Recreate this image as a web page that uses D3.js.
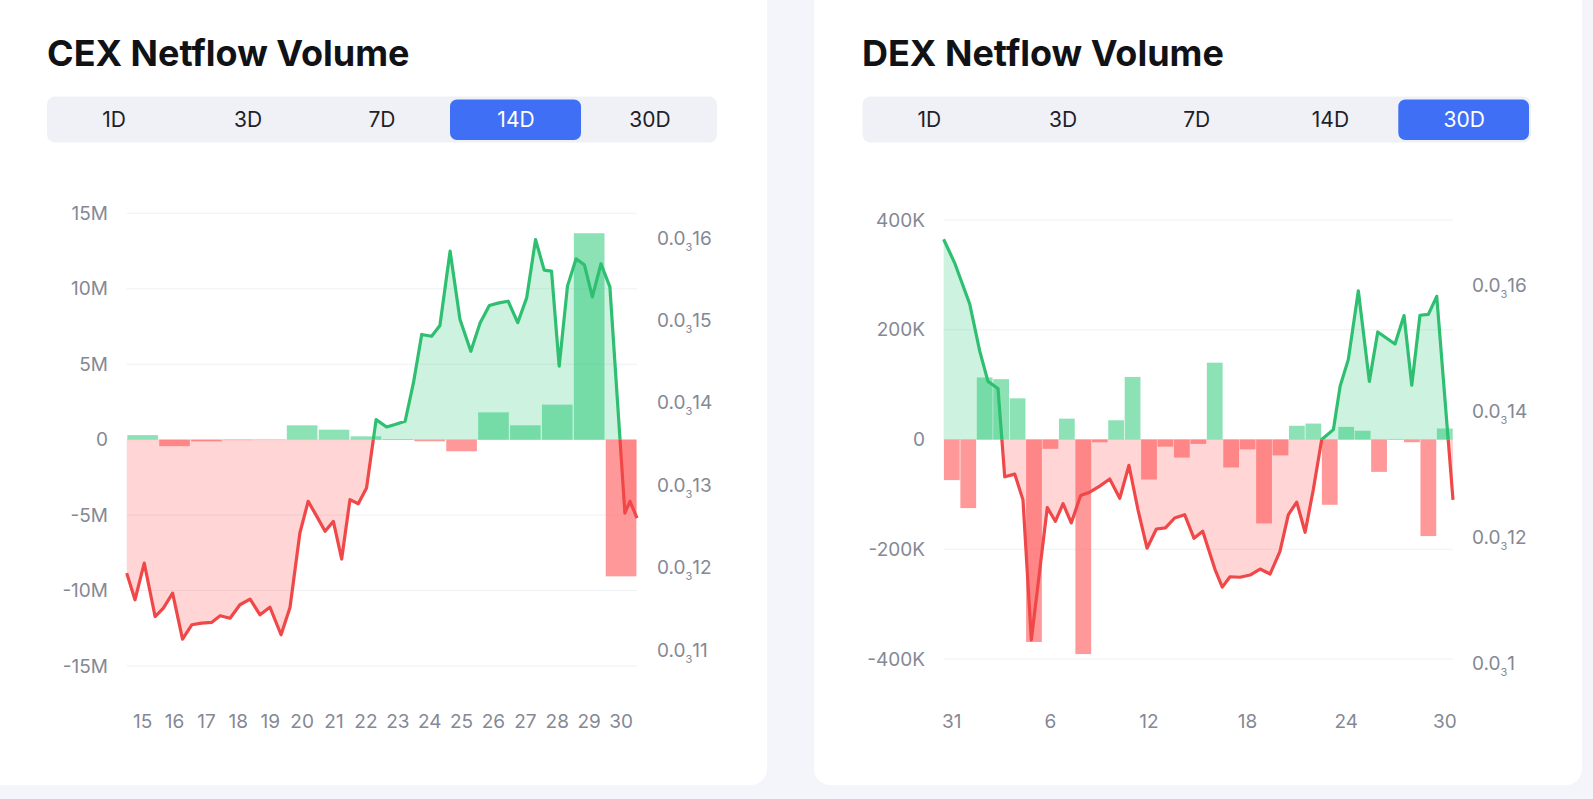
<!DOCTYPE html>
<html><head><meta charset="utf-8">
<script src="https://cdn.jsdelivr.net/npm/d3@7"></script>
<style>
html,body{margin:0;padding:0;background:#f4f5fa;overflow:hidden;}
svg{display:block;font-family:Inter,"Noto Sans",sans-serif;}
</style></head><body>
<svg id="c" width="1593" height="799"></svg>
<script>
// ---------- DATA ----------
const periods = ["1D", "3D", "7D", "14D", "30D"];

const cexTitle = "CEX Netflow Volume";
const cexDays = ["15","16","17","18","19","20","21","22","23","24","25","26","27","28","29","30"];
const cexNetflow = [0.3e6, -0.43e6, -0.11e6, -0.03e6, -0.02e6, 0.95e6, 0.66e6, 0.22e6, 0.04e6, -0.11e6, -0.77e6, 1.81e6, 0.95e6, 2.32e6, 13.68e6, -9.06e6];
const cexPriceTimes = [0.00,0.26,0.55,0.89,1.15,1.44,1.75,2.04,2.35,2.66,2.93,3.24,3.55,3.87,4.18,4.49,4.84,5.12,5.43,5.69,5.96,6.22,6.48,6.74,7.00,7.26,7.52,7.82,8.15,8.41,8.73,8.99,9.25,9.56,9.82,10.14,10.45,10.79,11.08,11.37,11.67,11.96,12.26,12.54,12.82,13.09,13.32,13.56,13.82,14.09,14.35,14.60,14.87,15.15,15.62,15.78,16.00];
const cexPrice = [1.1933e-4,1.1610e-4,1.2054e-4,1.1406e-4,1.1509e-4,1.1690e-4,1.1132e-4,1.1306e-4,1.1326e-4,1.1335e-4,1.1416e-4,1.1386e-4,1.1549e-4,1.1617e-4,1.1427e-4,1.1520e-4,1.1185e-4,1.1515e-4,1.2420e-4,1.2805e-4,1.2622e-4,1.2440e-4,1.2561e-4,1.2104e-4,1.2825e-4,1.2775e-4,1.2966e-4,1.3796e-4,1.3707e-4,1.3736e-4,1.3776e-4,1.4241e-4,1.4829e-4,1.4808e-4,1.4938e-4,1.5841e-4,1.5010e-4,1.4625e-4,1.4969e-4,1.5180e-4,1.5213e-4,1.5233e-4,1.4972e-4,1.5273e-4,1.5981e-4,1.5610e-4,1.5597e-4,1.4444e-4,1.5416e-4,1.5747e-4,1.5676e-4,1.5286e-4,1.5687e-4,1.5407e-4,1.2662e-4,1.2805e-4,1.2601e-4];
const cexLeftTicks = [-15e6, -10e6, -5e6, 0, 5e6, 10e6, 15e6];
const cexRightTicks = [0.00011, 0.00012, 0.00013, 0.00014, 0.00015, 0.00016];
const cexXTicks = cexDays;

const dexTitle = "DEX Netflow Volume";
const dexDays = ["31","1","2","3","4","5","6","7","8","9","10","11","12","13","14","15","16","17","18","19","20","21","22","23","24","25","26","27","28","29","30"];
const dexNetflow = [-74e3,-125e3,113e3,110e3,75e3,-369e3,-17e3,38e3,-391e3,-5e3,35e3,114e3,-73e3,-13e3,-33e3,-8e3,140e3,-51e3,-18e3,-153e3,-29e3,25e3,29e3,-119e3,23e3,16e3,-59e3,1e3,-5e3,-176e3,20e3];
const dexPriceTimes = [0.00,0.67,1.59,2.20,2.70,3.31,3.72,4.33,4.83,5.34,6.31,6.80,7.27,7.77,8.34,8.89,9.50,10.11,10.72,11.28,11.83,12.38,12.95,13.50,14.06,14.67,15.24,15.77,16.52,16.96,17.43,18.04,18.65,19.26,19.87,20.47,20.98,21.49,22.00,22.50,23.01,23.72,24.13,24.63,25.24,25.91,26.42,27.47,28.02,28.49,28.99,29.50,30.01,31.00];
const dexPrice = [1.6731e-4,1.6357e-4,1.5703e-4,1.4954e-4,1.4475e-4,1.4362e-4,1.2960e-4,1.3003e-4,1.2594e-4,1.0373e-4,1.2472e-4,1.2254e-4,1.2533e-4,1.2228e-4,1.2664e-4,1.2716e-4,1.2812e-4,1.2925e-4,1.2620e-4,1.3143e-4,1.2437e-4,1.1827e-4,1.2132e-4,1.2150e-4,1.2306e-4,1.2359e-4,1.1984e-4,1.2097e-4,1.1488e-4,1.1209e-4,1.1374e-4,1.1366e-4,1.1401e-4,1.1496e-4,1.1418e-4,1.1775e-4,1.2359e-4,1.2559e-4,1.2080e-4,1.2759e-4,1.3552e-4,1.3709e-4,1.4397e-4,1.4824e-4,1.5912e-4,1.4475e-4,1.5259e-4,1.5068e-4,1.5520e-4,1.4414e-4,1.5525e-4,1.5538e-4,1.5825e-4,1.2594e-4];
const dexLeftTicks = [-400e3, -200e3, 0, 200e3, 400e3];
const dexRightTicks = [0.0001, 0.00012, 0.00014, 0.00016];
const dexXTicks = ["31","6","12","18","24","30"];

// ---------- DRAW ----------
const svg = d3.select("#c");
const GREEN = "#2fbf71", RED = "#f04848";
const AXIS_FS = 19;

function fmtLeft(v, unit, div) {
  if (v === 0) return "0";
  return (v / div) + unit;
}
function subParts(p) {
  // 0.00016 -> ["0.0","3","16"]
  const s = p.toFixed(10).replace(/0+$/, "");
  const dec = s.split(".")[1];
  const m = dec.match(/^0+/);
  const zeros = m ? m[0].length : 0;
  return ["0.0", String(zeros), dec.slice(zeros)];
}

function drawCard(cfg) {
  const g = svg.append("g");
  g.append("rect").attr("x", cfg.card[0]).attr("y", cfg.card[1]).attr("width", cfg.card[2]).attr("height", cfg.card[3])
    .attr("rx", 16).attr("fill", "#ffffff");
  g.append("text").attr("x", cfg.titleX).attr("y", 66).text(cfg.title)
    .attr("font-size", 36).attr("font-weight", 700).attr("fill", "#111216");
  // tabs
  const tx = cfg.tabs[0], tw = cfg.tabs[1];
  const tabW = tw / periods.length;
  g.append("rect").attr("x", tx).attr("y", 96.5).attr("width", tw).attr("height", 46).attr("rx", 8).attr("fill", "#f0f1f6");
  g.append("rect").attr("x", tx + tabW * cfg.sel + 1).attr("y", 99.5).attr("width", tabW - 3).attr("height", 40.5)
    .attr("rx", 7).attr("fill", "#3f6ff5");
  periods.forEach((p, i) => {
    g.append("text").attr("x", tx + tabW * (i + 0.5)).attr("y", 120).attr("dy", "0.35em")
      .attr("text-anchor", "middle").attr("font-size", 21).attr("fill", i === cfg.sel ? "#ffffff" : "#1e2128").text(p);
  });

  const x0 = cfg.plot[0], x1 = cfg.plot[1];
  const yL = d3.scaleLinear().domain(cfg.leftDomain).range(cfg.leftRange);
  const yR = d3.scaleLinear().domain(cfg.rightDomain).range(cfg.rightRange);
  const xb = d3.scaleBand().domain(cfg.days).range([x0, x1]).paddingInner(0.04).paddingOuter(0.02);
  const xt = d3.scaleLinear().domain([0, cfg.days.length]).range([x0, x1]);
  const base = yL(0);

  // grid
  g.append("g").selectAll("line").data(cfg.leftTicks).join("line")
    .attr("x1", x0).attr("x2", x1).attr("y1", d => yL(d)).attr("y2", d => yL(d))
    .attr("stroke", "#eff0f4").attr("stroke-width", 1);
  // left labels
  g.append("g").selectAll("text").data(cfg.leftTicks).join("text")
    .attr("x", cfg.leftLabelX).attr("y", d => yL(d)).attr("dy", "0.35em").attr("text-anchor", "end")
    .attr("font-size", AXIS_FS).attr("fill", "#858895").text(d => fmtLeft(d, cfg.unit, cfg.div));
  // right labels
  const rl = g.append("g").selectAll("text").data(cfg.rightTicks).join("text")
    .attr("x", cfg.rightLabelX).attr("y", d => yR(d)).attr("dy", "0.35em")
    .attr("font-size", AXIS_FS).attr("fill", "#858895");
  rl.each(function (d) {
    const parts = subParts(d);
    const t = d3.select(this);
    t.append("tspan").text(parts[0]);
    t.append("tspan").attr("font-size", 11).attr("dy", 6).text(parts[1]);
    t.append("tspan").attr("dy", -6).text(parts[2]);
  });
  // x labels
  g.append("g").selectAll("text").data(cfg.xTicks).join("text")
    .attr("x", d => xb(d) + xb.bandwidth() / 2).attr("y", 721).attr("dy", "0.35em").attr("text-anchor", "middle")
    .attr("font-size", AXIS_FS).attr("fill", "#858895").text(d => d);

  // clip paths
  const id = cfg.id;
  const defs = g.append("defs");
  defs.append("clipPath").attr("id", id + "up").append("rect").attr("x", x0 - 5).attr("y", 0).attr("width", x1 - x0 + 10).attr("height", base);
  defs.append("clipPath").attr("id", id + "dn").append("rect").attr("x", x0 - 5).attr("y", base).attr("width", x1 - x0 + 10).attr("height", 799 - base);

  const pts = cfg.price.map((p, i) => [cfg.times[i], p]);
  const area = d3.area().x(d => xt(d[0])).y0(base).y1(d => yR(d[1]));
  const line = d3.line().x(d => xt(d[0])).y(d => yR(d[1]));

  g.append("path").attr("d", area(pts)).attr("fill", "rgba(46,200,120,0.24)").attr("clip-path", `url(#${id}up)`);
  g.append("path").attr("d", area(pts)).attr("fill", "rgba(255,80,80,0.24)").attr("clip-path", `url(#${id}dn)`);

  // bars
  g.append("g").selectAll("rect").data(cfg.netflow.map((v, i) => ({ d: cfg.days[i], v }))).join("rect")
    .attr("x", d => xb(d.d)).attr("width", xb.bandwidth())
    .attr("y", d => Math.min(yL(0), yL(d.v))).attr("height", d => Math.abs(yL(d.v) - yL(0)))
    .attr("fill", d => d.v >= 0 ? "rgba(46,200,120,0.55)" : "rgba(255,70,70,0.55)");

  g.append("path").attr("d", line(pts)).attr("fill", "none").attr("stroke", GREEN).attr("stroke-width", 3.2)
    .attr("stroke-linejoin", "round").attr("clip-path", `url(#${id}up)`);
  g.append("path").attr("d", line(pts)).attr("fill", "none").attr("stroke", RED).attr("stroke-width", 3.2)
    .attr("stroke-linejoin", "round").attr("clip-path", `url(#${id}dn)`);
}

drawCard({
  id: "cex", card: [-20, -16, 787, 801], title: cexTitle, titleX: 47, tabs: [47, 670], sel: 3,
  plot: [126.7, 637], days: cexDays, netflow: cexNetflow, times: cexPriceTimes, price: cexPrice,
  leftDomain: [-15e6, 15e6], leftRange: [666, 213.3], rightDomain: [0.00011, 0.00016], rightRange: [650, 238],
  leftTicks: cexLeftTicks, rightTicks: cexRightTicks, xTicks: cexXTicks, unit: "M", div: 1e6,
  leftLabelX: 108, rightLabelX: 657
});
drawCard({
  id: "dex", card: [814, -16, 768, 801], title: dexTitle, titleX: 862, tabs: [862.5, 668.5], sel: 4,
  plot: [943.6, 1453], days: dexDays, netflow: dexNetflow, times: dexPriceTimes, price: dexPrice,
  leftDomain: [-400e3, 400e3], leftRange: [659, 220], rightDomain: [0.0001, 0.00016], rightRange: [663.3, 285.3],
  leftTicks: dexLeftTicks, rightTicks: dexRightTicks, xTicks: dexXTicks, unit: "K", div: 1e3,
  leftLabelX: 925, rightLabelX: 1472
});
</script>
</body></html>
